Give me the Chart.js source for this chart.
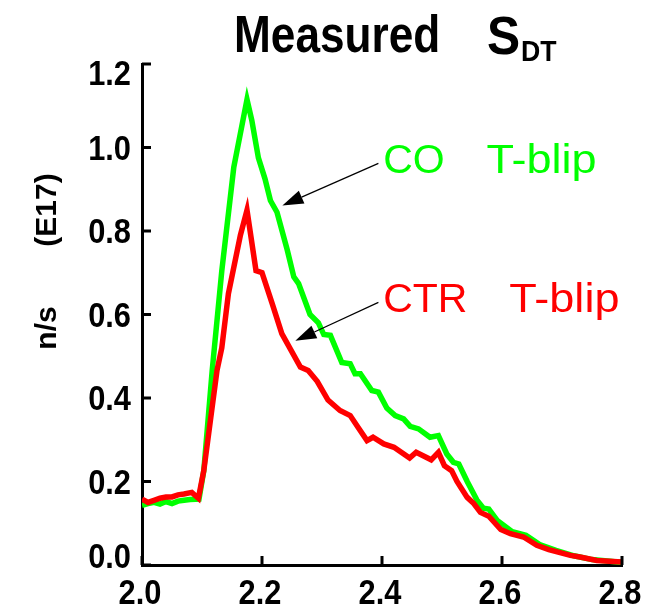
<!DOCTYPE html>
<html>
<head>
<meta charset="utf-8">
<script src="https://cdn.jsdelivr.net/npm/chart.js@4"></script>
<style>
  html, body { margin: 0; padding: 0; background: #fff; }
  #wrap { width: 655px; height: 611px; }
</style>
</head>
<body>
<div id="wrap"><canvas id="sdt-chart"></canvas></div>
<script>
// Measured S_DT (n/s, E17) vs time

const xTicks = [2.0, 2.2, 2.4, 2.6, 2.8];
const yTicks = [0.0, 0.2, 0.4, 0.6, 0.8, 1.0, 1.2];

const coTime = [2.000, 2.010, 2.020, 2.030, 2.040, 2.050, 2.060, 2.070, 2.080, 2.095,
  2.103, 2.117, 2.133, 2.153, 2.175, 2.183, 2.194, 2.205, 2.214, 2.225,
  2.242, 2.253, 2.261, 2.280, 2.294, 2.303, 2.314, 2.333, 2.347, 2.355,
  2.364, 2.383, 2.394, 2.408, 2.422, 2.436, 2.447, 2.461, 2.480, 2.494,
  2.508, 2.519, 2.528, 2.542, 2.558, 2.569, 2.578, 2.592, 2.617, 2.640,
  2.664, 2.690, 2.720, 2.750, 2.780, 2.800];
const coValues = [0.143, 0.147, 0.150, 0.146, 0.152, 0.147, 0.153, 0.155, 0.157, 0.158,
  0.226, 0.466, 0.705, 0.953, 1.115, 1.065, 0.975, 0.925, 0.873, 0.845,
  0.755, 0.690, 0.674, 0.600, 0.580, 0.552, 0.550, 0.485, 0.482, 0.458,
  0.458, 0.418, 0.414, 0.376, 0.358, 0.350, 0.332, 0.326, 0.306, 0.310,
  0.266, 0.246, 0.242, 0.200, 0.156, 0.136, 0.134, 0.107, 0.080, 0.071,
  0.048, 0.035, 0.022, 0.013, 0.009, 0.006];

const ctrTime = [2.000, 2.010, 2.020, 2.030, 2.040, 2.050, 2.060, 2.070, 2.083, 2.094,
  2.103, 2.125, 2.133, 2.144, 2.164, 2.175, 2.190, 2.200, 2.217, 2.233,
  2.264, 2.277, 2.292, 2.310, 2.330, 2.347, 2.360, 2.375, 2.385, 2.403,
  2.420, 2.446, 2.457, 2.482, 2.494, 2.504, 2.516, 2.525, 2.542, 2.553,
  2.564, 2.578, 2.598, 2.614, 2.636, 2.658, 2.678, 2.714, 2.730, 2.758,
  2.800];
const ctrValues = [0.158, 0.150, 0.155, 0.160, 0.163, 0.163, 0.168, 0.170, 0.174, 0.160,
  0.226, 0.466, 0.520, 0.650, 0.790, 0.850, 0.705, 0.700, 0.626, 0.554,
  0.474, 0.466, 0.440, 0.395, 0.370, 0.358, 0.330, 0.298, 0.306, 0.290,
  0.282, 0.256, 0.270, 0.252, 0.270, 0.238, 0.226, 0.200, 0.162, 0.147,
  0.126, 0.117, 0.085, 0.075, 0.067, 0.047, 0.037, 0.023, 0.019, 0.011,
  0.007];

// arrow labels, positions in data units
const notes = [
  { words: ['CO', 'T-blip'], color: '#00ff00', at: [2.402, 0.94], gap: 2.574, tail: [2.394, 0.962], tip: [2.234, 0.861] },
  { words: ['CTR', 'T-blip'], color: '#ff0000', at: [2.402, 0.605], gap: 2.612, tail: [2.394, 0.629], tip: [2.2555, 0.537] }
];

const toPoints = (xs, ys) => xs.map((x, i) => ({ x: x, y: ys[i] }));

const FONT = '"Liberation Sans", Arial, sans-serif';

// text with horizontal squeeze / stretch
function drawText(ctx, text, x, y, font, sx, align) {
  ctx.save();
  ctx.font = font;
  ctx.textAlign = align || 'left';
  ctx.textBaseline = 'alphabetic';
  ctx.translate(x, y);
  ctx.scale(sx, 1);
  ctx.fillText(text, 0, 0);
  ctx.restore();
}

const decorPlugin = {
  id: 'decor',
  afterDraw(chart) {
    const ctx = chart.ctx;
    const xs = chart.scales.x;
    const ys = chart.scales.y;
    const area = chart.chartArea;

    ctx.save();
    ctx.strokeStyle = '#000';
    ctx.fillStyle = '#000';
    ctx.lineWidth = 3;

    // inward ticks + labels
    const tickFont = 'bold 35px ' + FONT;
    xTicks.forEach(t => {
      const px = xs.getPixelForValue(t);
      ctx.beginPath();
      ctx.moveTo(px, area.bottom);
      ctx.lineTo(px, area.bottom - 9);
      ctx.stroke();
      drawText(ctx, t.toFixed(1), px - 2, area.bottom + 39, tickFont, 0.88, 'center');
    });
    yTicks.forEach(t => {
      const py = ys.getPixelForValue(t);
      ctx.beginPath();
      ctx.moveTo(area.left, py);
      ctx.lineTo(area.left + 9, py);
      ctx.stroke();
      const cy = Math.min(Math.max(py, area.top + 9), area.bottom - 9);
      drawText(ctx, t.toFixed(1), area.left - 11, cy + 12, tickFont, 0.88, 'right');
    });

    // title
    drawText(ctx, 'Measured', 234, 52, 'bold 52px ' + FONT, 0.85);
    drawText(ctx, 'S', 487, 54, 'bold 54px ' + FONT, 0.92);
    drawText(ctx, 'DT', 521, 61, 'bold 29px ' + FONT, 0.92);

    // y axis title
    ctx.save();
    ctx.translate(56, 0);
    ctx.rotate(-Math.PI / 2);
    ctx.font = 'bold 30px ' + FONT;
    ctx.textAlign = 'center';
    ctx.fillText('n/s', -328, 0);
    ctx.fillText('(E17)', -210, 0);
    ctx.restore();

    // arrow labels
    notes.forEach(n => {
      ctx.fillStyle = n.color;
      const ty = ys.getPixelForValue(n.at[1]);
      drawText(ctx, n.words[0], xs.getPixelForValue(n.at[0]), ty, '41px ' + FONT, 1.0);
      drawText(ctx, n.words[1], xs.getPixelForValue(n.gap), ty, '41px ' + FONT, 1.1);

      const x0 = xs.getPixelForValue(n.tail[0]), y0 = ys.getPixelForValue(n.tail[1]);
      const x1 = xs.getPixelForValue(n.tip[0]), y1 = ys.getPixelForValue(n.tip[1]);
      const ang = Math.atan2(y1 - y0, x1 - x0);
      const len = 21, half = 7;
      const bx = x1 - len * Math.cos(ang), by = y1 - len * Math.sin(ang);
      ctx.strokeStyle = '#000';
      ctx.lineWidth = 1.2;
      ctx.beginPath();
      ctx.moveTo(x0, y0);
      ctx.lineTo(bx, by);
      ctx.stroke();
      ctx.fillStyle = '#000';
      ctx.beginPath();
      ctx.moveTo(x1, y1);
      ctx.lineTo(bx + half * Math.sin(ang), by - half * Math.cos(ang));
      ctx.lineTo(bx - half * Math.sin(ang), by + half * Math.cos(ang));
      ctx.closePath();
      ctx.fill();
    });
    ctx.restore();
  }
};

const sdtCanvas = document.getElementById('sdt-chart');

const sdtData = {
  datasets: [{
    label: 'CTR T-blip',
    data: toPoints(ctrTime, ctrValues),
    borderColor: '#ff0000',
    borderWidth: 5.5,
    order: 0
  }, {
    label: 'CO T-blip',
    data: toPoints(coTime, coValues),
    borderColor: '#00ff00',
    borderWidth: 5.5,
    order: 1
  }]
};

const sdtOptions = {
  responsive: true,
  maintainAspectRatio: false,
  animation: false,
  parsing: false,
  layout: {
    padding: { top: 64, right: 33, left: 0, bottom: 0 }
  },
  elements: {
    point: { radius: 0 },
    line: { tension: 0, borderJoinStyle: 'miter', fill: false }
  },
  scales: {
    x: {
      type: 'linear',
      min: 2.0,
      max: 2.8,
      afterFit: s => { s.height = 46; },
      afterBuildTicks: s => { s.ticks = xTicks.map(v => ({ value: v })); },
      grid: { display: false, drawTicks: false },
      border: { display: true, color: '#000', width: 3 },
      ticks: { display: false }
    },
    y: {
      min: 0,
      max: 1.2,
      afterFit: s => { s.width = 142; },
      afterBuildTicks: s => { s.ticks = yTicks.map(v => ({ value: v })); },
      grid: { display: false, drawTicks: false },
      border: { display: true, color: '#000', width: 3 },
      ticks: { display: false }
    }
  },
  plugins: {
    legend: { display: false },
    tooltip: { enabled: false }
  }
};

let sdtChart = new Chart(sdtCanvas, {
  type: 'line',
  data: sdtData,
  options: sdtOptions,
  plugins: [decorPlugin]
});
</script>
</body>
</html>
